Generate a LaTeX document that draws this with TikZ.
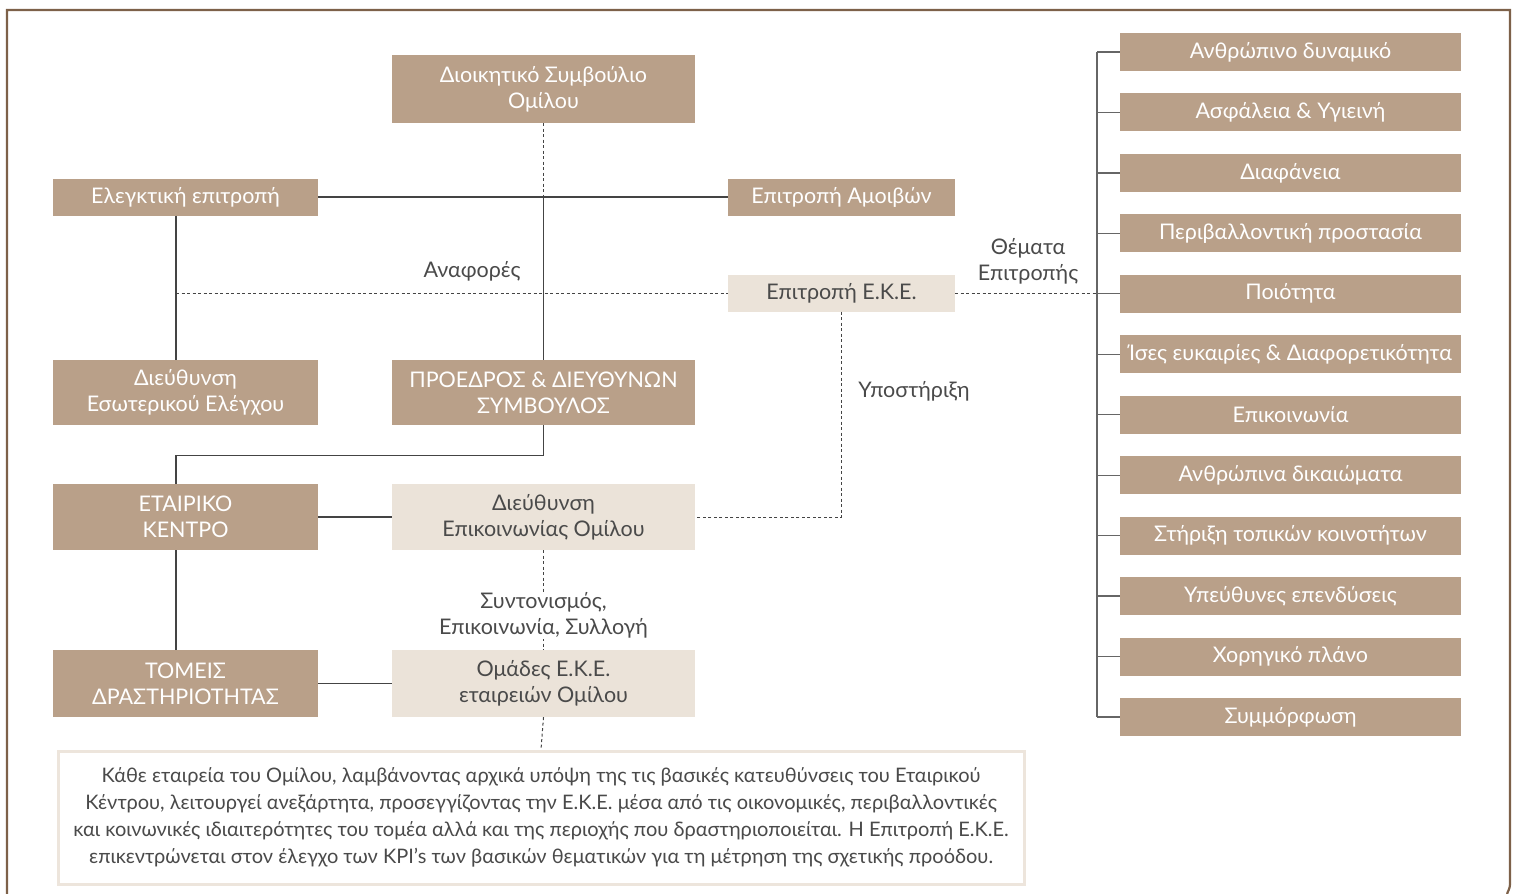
\documentclass[tikz,border=0pt]{standalone}
\usepackage{fontspec}
\setmainfont{Lato}
\definecolor{tan}{HTML}{B9A089}
\definecolor{lighttan}{HTML}{EBE3D9}
\definecolor{parab}{HTML}{EDE5DC}
\definecolor{framec}{HTML}{7D6149}
\definecolor{txtd}{HTML}{4A4A4A}
\definecolor{linec}{HTML}{444444}
\tikzset{
  darkbox/.style={fill=tan, text=white, align=center, inner sep=0pt,
    font=\fontsize{21.5}{26}\selectfont},
  lightbox/.style={fill=lighttan, text=txtd, align=center, inner sep=0pt,
    font=\fontsize{21.5}{26}\selectfont},
  itembox/.style={darkbox, minimum width=341pt, minimum height=38pt},
  lbl/.style={text=txtd, align=center, font=\fontsize{21.5}{26}\selectfont},
  conn/.style={draw=linec, line width=1.2pt},
  dconn/.style={draw=linec, line width=1pt, dash pattern=on 3pt off 2.5pt},
}
\begin{document}
\begin{tikzpicture}[x=1pt, y=-1pt]
\useasboundingbox (0,0) rectangle (1515,894);
% outer frame
\draw[framec, line width=2.2pt] (7,896) -- (7,10) -- (1510,10) -- (1510,884) to[out=-90,in=70] (1507,894);

% left / centre boxes
\node[darkbox, minimum width=303pt, minimum height=68pt] (dsb) at (543.5,89) {Διοικητικό Συμβούλιο\\Ομίλου};
\node[darkbox, minimum width=265pt, minimum height=37pt] (eleg) at (185.5,197) {Ελεγκτική επιτροπή};
\node[darkbox, minimum width=227pt, minimum height=37pt] (amoib) at (841.5,197) {Επιτροπή Αμοιβών};
\node[lightbox, minimum width=227pt, minimum height=37pt] (eke) at (841.5,293) {Επιτροπή Ε.Κ.Ε.};
\node[darkbox, minimum width=265pt, minimum height=65pt] (eswt) at (185.5,392.5) {Διεύθυνση\\Εσωτερικού Ελέγχου};
\node[darkbox, minimum width=303pt, minimum height=65pt] (proedr) at (543.5,392.5) {ΠΡΟΕΔΡΟΣ \& ΔΙΕΥΘΥΝΩΝ\\ΣΥΜΒΟΥΛΟΣ};
\node[darkbox, minimum width=265pt, minimum height=66pt] (etair) at (185.5,517) {ΕΤΑΙΡΙΚΟ\\ΚΕΝΤΡΟ};
\node[lightbox, minimum width=303pt, minimum height=66pt] (dieep) at (543.5,517) {Διεύθυνση\\Επικοινωνίας Ομίλου};
\node[darkbox, minimum width=265pt, minimum height=67pt] (tomeis) at (185.5,683.5) {ΤΟΜΕΙΣ\\ΔΡΑΣΤΗΡΙΟΤΗΤΑΣ};
\node[lightbox, minimum width=303pt, minimum height=67pt] (omades) at (543.5,683.5) {Ομάδες Ε.Κ.Ε.\\εταιρειών Ομίλου};

% paragraph box
\node[draw=parab, line width=3pt, fill=white, minimum width=966pt, minimum height=133pt,
  text=txtd, align=center, font=\fontsize{20}{27}\selectfont, inner sep=0pt] (para) at (541,817.5)
  {Κάθε εταιρεία του Ομίλου, λαμβάνοντας αρχικά υπόψη της τις βασικές κατευθύνσεις του Εταιρικού\\
   Κέντρου, λειτουργεί ανεξάρτητα, προσεγγίζοντας την Ε.Κ.Ε. μέσα από τις οικονομικές, περιβαλλοντικές\\
   και κοινωνικές ιδιαιτερότητες του τομέα αλλά και της περιοχής που δραστηριοποιείται. Η Επιτροπή Ε.Κ.Ε.\\
   επικεντρώνεται στον έλεγχο των KPI’s των βασικών θεματικών για τη μέτρηση της σχετικής προόδου.};

% right column
\foreach \t [count=\i from 0] in {Ανθρώπινο δυναμικό, Ασφάλεια \& Υγιεινή, Διαφάνεια,
  Περιβαλλοντική προστασία, Ποιότητα, Ίσες ευκαιρίες \& Διαφορετικότητα, Επικοινωνία,
  Ανθρώπινα δικαιώματα, Στήριξη τοπικών κοινοτήτων, Υπεύθυνες επενδύσεις, Χορηγικό πλάνο,
  Συμμόρφωση}{
  \node[itembox] (it\i) at (1290.5,{52+60.45*\i}) {\t};
}
\coordinate (btop) at (1097,52);
\coordinate (bbot) at (1097,717);
\draw[conn, draw=gray!80!black] (btop) -- (bbot);
\foreach \i in {0,...,11}{
  \draw[conn, draw=gray!80!black] (it\i.west -| btop) -- (it\i.west);
}

% connectors
\coordinate (j1) at (dsb.south |- eleg.east);
\draw[dconn] (dsb.south) -- (j1);
\draw[conn] (eleg.east) -- (amoib.west);
\draw[conn] (j1) -- (proedr.north);
\draw[conn] ([xshift=-9.5pt]eleg.south) -- ([xshift=-9.5pt]eswt.north);
\coordinate (ref) at ([xshift=-9.5pt]eleg.south |- eke.west);
\draw[dconn] (ref) -- (eke.west);
\node[lbl] (anaf) at (472,271) {Αναφορές};
\draw[conn] (proedr.south) -- ++(0,30) -| ([xshift=-9.5pt]etair.north);
\draw[conn] (etair.east) -- (dieep.west);
\draw[conn] ([xshift=-9.5pt]etair.south) -- ([xshift=-9.5pt]tomeis.north);
\draw[conn] (tomeis.east) -- (omades.west);
\draw[dconn] (dieep.south) -- (omades.north);
\node[lbl, fill=white, inner sep=1pt] (synt) at (543.5,615.5) {Συντονισμός,\\Επικοινωνία, Συλλογή};
\draw[dconn] (omades.south) -- (para.north);
\draw[dconn] (eke.south) -- (eke.south |- dieep.east) -- (dieep.east);
\node[lbl] (ypos) at (914,391) {Υποστήριξη};
\draw[dconn] (eke.east) -- (eke.east -| btop);
\node[lbl] (them) at (1028,261) {Θέματα\\Επιτροπής};
\end{tikzpicture}
\end{document}
